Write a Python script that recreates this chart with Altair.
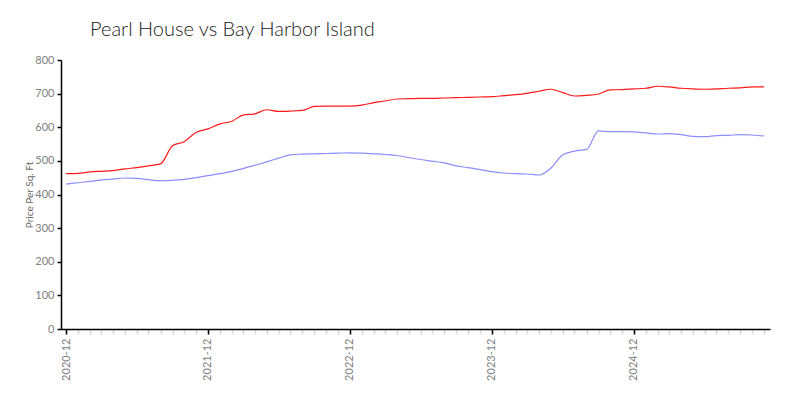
import altair as alt
import pandas as pd

months = pd.date_range("2020-12-01", "2025-11-01", freq="MS").strftime("%Y-%m-%d").tolist()
year_ticks = ["2020-12-01", "2021-12-01", "2022-12-01", "2023-12-01", "2024-12-01"]

pearl_house = [462, 463, 467, 469, 471, 476, 480, 485, 491, 545,
               557, 585, 595, 610, 618, 636, 640, 652, 647, 648,
               650, 662, 663, 663, 663, 666, 673, 678, 684, 685,
               686, 686, 687, 688, 689, 690, 691, 694, 697, 701,
               707, 713, 703, 693, 695, 699, 711, 712, 714, 716,
               722, 720, 716, 714, 713, 714, 716, 717, 720, 720]

bay_harbor = [431, 435, 439, 443, 446, 449, 448, 444, 441, 442,
              445, 450, 456, 462, 469, 477, 487, 497, 508, 518,
              520, 521, 522, 523, 524, 523, 521, 519, 516, 510,
              504, 499, 494, 485, 480, 474, 468, 464, 462, 461,
              458, 478, 518, 529, 534, 589, 587, 587, 586, 583,
              580, 581, 578, 573, 572, 575, 576, 578, 577, 574]

series_names = ["Pearl House", "Bay Harbor Island"]
series_colors = ["#ff1a1a", "#8c8cff"]

rows = []
for name, vals in zip(series_names, [pearl_house, bay_harbor]):
    for d, v in zip(months, vals):
        rows.append({"date": d, "value": v, "series": name})
df = pd.DataFrame(rows)

FONT = "Lato"
x_scale = alt.Scale(domain=["2020-11-18", "2025-11-16"])

minor_axis = alt.Axis(
    title=None, grid=False, orient="bottom",
    values=[alt.DateTime(year=int(m[:4]), month=int(m[5:7]), date=1) for m in months],
    labels=False, domain=False,
    tickColor="#d4d4d4", tickSize=4, tickWidth=1.5, offset=1,
)

major_axis = alt.Axis(
    title=None, grid=False, orient="bottom",
    values=[alt.DateTime(year=int(m[:4]), month=int(m[5:7]), date=1) for m in year_ticks],
    format="%Y-%m",
    labelAngle=270,
    labelAlign="right",
    labelBaseline="middle",
    labelOverlap=False,
    labelColor="#808080",
    labelFont=FONT,
    labelFontSize=11,
    labelPadding=4,
    domainColor="#000000",
    domainWidth=1.5,
    tickColor="#000000",
    tickSize=5,
    tickWidth=1.5,
    tickOffset=0,
)

y_axis = alt.Axis(
    title="Price Per Sq. Ft",
    values=[0, 100, 200, 300, 400, 500, 600, 700, 800],
    grid=False,
    labelColor="#808080",
    labelFont=FONT,
    labelFontSize=11,
    labelPadding=3,
    titleColor="#666666",
    titleFont=FONT,
    titleFontSize=10,
    titleFontWeight="normal",
    titlePadding=0,
    domainColor="#000000",
    domainWidth=1.5,
    tickColor="#000000",
    tickSize=4,
    tickWidth=1.5,
)

y_enc = alt.Y("value:Q", axis=y_axis, scale=alt.Scale(domain=[0, 800], nice=False))

minor_layer = alt.Chart(df).mark_line(opacity=0).encode(
    x=alt.X("date:T", axis=minor_axis, scale=x_scale),
    y=y_enc,
    detail="series:N",
)

lines = alt.Chart(df).mark_line(strokeWidth=1.2, interpolate="monotone").encode(
    x=alt.X("date:T", axis=major_axis, scale=x_scale),
    y=y_enc,
    color=alt.Color("series:N", legend=None,
                    scale=alt.Scale(domain=series_names, range=series_colors)),
)

chart = alt.layer(minor_layer, lines).resolve_axis(x="independent").properties(
    width=709,
    height=269,
    title=alt.TitleParams(
        "Pearl House vs Bay Harbor Island",
        anchor="start",
        frame="group",
        dx=29,
        offset=14,
        font=FONT,
        fontSize=20,
        fontWeight=300,
        color="#222222",
    ),
    autosize=alt.AutoSizeParams(type="none"),
    padding={"left": 53, "top": 52, "right": 22, "bottom": 60},
).configure_view(stroke=None)

chart.save("out.html", embed_options={"renderer": "svg", "actions": False})
